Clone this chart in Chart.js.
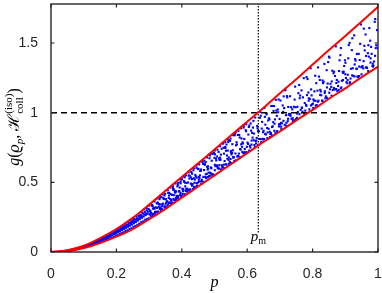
<!DOCTYPE html>
<html>
<head>
<meta charset="utf-8">
<script src="https://cdn.jsdelivr.net/npm/chart.js@4.4.1/dist/chart.umd.min.js"></script>
<style>
  html, body { margin: 0; padding: 0; background: #fff; }
  #wrap { width: 382px; height: 293px; }
</style>
</head>
<body>
<div id="wrap"><canvas id="chart" width="382" height="293"></canvas></div>
<script>
// bounding curves
const boundP = [0, 0.05, 0.1, 0.15, 0.2, 0.25, 0.3, 0.35, 0.4, 0.45, 0.5, 0.55, 0.6, 0.65, 0.7, 0.75, 0.8, 0.85, 0.9, 0.95, 1];
const upperBound = [0, 0.012, 0.045, 0.1, 0.165, 0.245, 0.34, 0.44, 0.538, 0.637, 0.736, 0.836, 0.935, 1.035, 1.14, 1.24, 1.345, 1.45, 1.55, 1.655, 1.76];
const lowerBound = [0, 0.006, 0.028, 0.065, 0.11, 0.165, 0.235, 0.31, 0.39, 0.47, 0.55, 0.63, 0.71, 0.79, 0.865, 0.945, 1.02, 1.1, 1.175, 1.255, 1.33];

const pm = 0.634;
const pmLineBottom = 0.14;
const refLevel = 1;

const xTicks = [0, 0.2, 0.4, 0.6, 0.8, 1];
const yTicks = [0, 0.5, 1, 1.5];
const yMax = 1.78;

// sampled points (p, g)
const cloudPoints = [
  [0.030,0.003],[0.039,0.005],[0.036,0.004],[0.045,0.007],[0.042,0.005],[0.051,0.009],[0.048,0.007],[0.057,0.012],
  [0.054,0.009],[0.063,0.015],[0.060,0.012],[0.069,0.018],[0.066,0.014],[0.075,0.022],[0.072,0.017],[0.081,0.026],
  [0.078,0.020],[0.087,0.030],[0.084,0.023],[0.093,0.033],[0.090,0.027],[0.099,0.038],[0.096,0.030],[0.105,0.041],
  [0.102,0.034],[0.111,0.048],[0.108,0.037],[0.117,0.052],[0.114,0.044],[0.123,0.058],[0.120,0.046],[0.129,0.066],
  [0.126,0.052],[0.135,0.070],[0.132,0.057],[0.141,0.078],[0.138,0.061],[0.147,0.085],[0.144,0.066],[0.153,0.087],
  [0.150,0.071],[0.159,0.098],[0.156,0.075],[0.165,0.101],[0.162,0.082],[0.171,0.111],[0.168,0.087],[0.177,0.115],
  [0.174,0.093],[0.183,0.124],[0.180,0.098],[0.189,0.131],[0.186,0.104],[0.195,0.137],[0.192,0.110],[0.201,0.147],
  [0.198,0.118],[0.207,0.152],[0.204,0.121],[0.213,0.161],[0.210,0.130],[0.219,0.170],[0.216,0.136],[0.225,0.175],
  [0.222,0.142],[0.231,0.188],[0.228,0.151],[0.237,0.193],[0.234,0.156],[0.243,0.204],[0.240,0.165],[0.249,0.212],
  [0.246,0.170],[0.255,0.218],[0.252,0.180],[0.261,0.231],[0.258,0.186],[0.267,0.238],[0.264,0.195],[0.273,0.250],
  [0.270,0.203],[0.279,0.256],[0.276,0.214],[0.285,0.270],[0.282,0.220],[0.291,0.276],[0.288,0.231],[0.297,0.290],
  [0.294,0.236],
  [0.0315,0.003],[0.0375,0.0045],[0.0435,0.006],[0.0495,0.0085],[0.0555,0.011],[0.0615,0.0135],[0.0675,0.0165],
  [0.0735,0.020],[0.0795,0.0235],[0.0855,0.0275],[0.0915,0.031],[0.0975,0.0345],[0.1035,0.0385],[0.1095,0.0435],
  [0.1155,0.049],[0.1215,0.0545],[0.1275,0.0605],[0.1335,0.066],[0.1395,0.0715],[0.1455,0.077],[0.1515,0.0825],
  [0.1575,0.089],[0.1635,0.095],[0.1695,0.1015],[0.1755,0.1085],[0.1815,0.115],[0.1875,0.122],[0.1935,0.129],
  [0.1995,0.136],[0.2055,0.1425],[0.2115,0.1505],[0.2175,0.1585],[0.2235,0.166],[0.2295,0.174],[0.2355,0.1815],
  [0.2415,0.1895],[0.2475,0.1975],[0.2535,0.206],[0.2595,0.2155],[0.2655,0.226],[0.2715,0.2355],[0.2775,0.2455],
  [0.2835,0.2555],[0.2895,0.265],[0.2955,0.275],
  [0.0345,0.0037],[0.0405,0.0055],[0.0465,0.0074],[0.0525,0.0103],[0.0585,0.0131],[0.0645,0.016],[0.0705,0.0197],
  [0.0765,0.0235],[0.0825,0.0274],[0.0885,0.032],[0.0945,0.036],[0.1005,0.040],[0.1065,0.044],[0.1125,0.050],
  [0.1185,0.057],[0.1245,0.063],[0.1305,0.070],[0.1365,0.076],[0.1425,0.082],[0.1485,0.088],[0.1545,0.095],
  [0.1605,0.102],[0.1665,0.109],[0.1725,0.117],[0.1785,0.124],[0.1845,0.132],[0.1905,0.140],[0.1965,0.147],
  [0.2025,0.155],[0.2085,0.162],[0.2145,0.171],[0.2205,0.180],[0.2265,0.188],[0.2325,0.197],[0.2385,0.206],
  [0.2445,0.214],[0.2505,0.223],[0.2565,0.233],[0.2625,0.243],[0.2685,0.255],[0.2745,0.265],[0.2805,0.277],
  [0.2865,0.287],[0.2925,0.298],[0.2985,0.309],
  [0.205,0.167],[0.213,0.172],[0.221,0.190],[0.229,0.191],[0.237,0.213],[0.245,0.231],[0.253,0.237],
  [0.261,0.257],[0.269,0.261],[0.277,0.285],[0.285,0.306],[0.293,0.313],[0.301,0.333],[0.309,0.338],
  [0.317,0.363],[0.325,0.384],[0.333,0.392],[0.341,0.413],[0.349,0.418],[0.357,0.443],[0.365,0.463],
  [0.373,0.471],[0.381,0.492],[0.389,0.496],[0.397,0.521],[0.405,0.542],[0.413,0.550],[0.421,0.571],
  [0.429,0.575],[0.437,0.600],[0.445,0.621],[0.453,0.629],[0.461,0.650],[0.469,0.655],[0.477,0.679],
  [0.485,0.700],[0.493,0.708],[0.501,0.729],[0.509,0.734],[0.517,0.759],[0.525,0.780],[0.533,0.788],
  [0.541,0.809],[0.549,0.814],[0.557,0.839],[0.565,0.860],[0.573,0.868],[0.581,0.888],[0.589,0.893],
  [0.597,0.918],
  [0.305,0.276],[0.312,0.311],[0.319,0.287],[0.326,0.353],[0.333,0.341],[0.340,0.307],[0.347,0.406],
  [0.354,0.364],[0.361,0.405],[0.368,0.371],[0.375,0.451],[0.382,0.433],[0.389,0.387],[0.396,0.505],
  [0.403,0.451],[0.410,0.498],[0.417,0.455],[0.424,0.547],[0.431,0.523],[0.438,0.468],[0.445,0.604],
  [0.452,0.539],[0.459,0.592],[0.466,0.539],[0.473,0.645],[0.480,0.615],[0.487,0.548],[0.494,0.704],
  [0.501,0.626],[0.508,0.685],[0.515,0.623],[0.522,0.741],[0.529,0.706],[0.536,0.629],[0.543,0.803],
  [0.550,0.713],
  [0.300,0.241],[0.304,0.293],[0.298,0.238],[0.3015,0.270],[0.3055,0.281],[0.3025,0.297],
  [0.307,0.277],[0.311,0.328],[0.305,0.260],[0.3085,0.252],[0.3125,0.269],[0.3095,0.332],
  [0.314,0.275],[0.318,0.280],[0.312,0.267],[0.3155,0.318],[0.3195,0.265],[0.3165,0.311],
  [0.321,0.320],[0.325,0.316],[0.319,0.289],[0.3225,0.288],[0.3265,0.354],[0.3235,0.348],
  [0.328,0.291],[0.332,0.379],[0.326,0.284],[0.3295,0.325],[0.3335,0.315],[0.3305,0.344],
  [0.335,0.320],[0.339,0.307],[0.333,0.309],[0.3365,0.302],[0.3405,0.344],[0.3375,0.394],
  [0.342,0.347],[0.346,0.380],[0.340,0.329],[0.3435,0.386],[0.3475,0.328],[0.3445,0.383],
  [0.349,0.320],[0.353,0.354],[0.347,0.325],[0.3505,0.346],[0.3545,0.321],[0.3515,0.379],
  [0.356,0.362],[0.360,0.388],[0.354,0.326],[0.3575,0.339],[0.3615,0.424],[0.3585,0.424],
  [0.363,0.356],[0.367,0.345],[0.361,0.352],[0.3645,0.380],[0.3685,0.375],[0.3655,0.416],
  [0.370,0.410],[0.374,0.446],[0.368,0.357],[0.3715,0.352],[0.3755,0.408],[0.3725,0.459],
  [0.377,0.371],[0.381,0.438],[0.375,0.382],[0.3785,0.435],[0.3825,0.387],[0.3795,0.426],
  [0.384,0.403],[0.388,0.482],[0.382,0.373],[0.3855,0.393],[0.3895,0.377],[0.3865,0.471],
  [0.391,0.434],[0.395,0.410],[0.389,0.402],[0.3925,0.438],[0.3965,0.493],[0.3935,0.463],
  [0.398,0.398],[0.402,0.454],[0.396,0.424],[0.3995,0.404],[0.4035,0.436],[0.4005,0.522],
  [0.405,0.447],[0.409,0.536],[0.403,0.416],[0.4065,0.508],[0.4105,0.471],[0.4075,0.504],
  [0.412,0.438],[0.416,0.433],[0.410,0.415],[0.4135,0.453],[0.4175,0.446],[0.4145,0.495],
  [0.419,0.499],[0.423,0.528],[0.417,0.443],[0.4205,0.442],[0.4245,0.433],[0.4215,0.549],
  [0.426,0.450],[0.430,0.488],[0.424,0.447],[0.4275,0.491],[0.4315,0.562],[0.4285,0.535],
  [0.433,0.486],[0.437,0.529],[0.431,0.476],[0.4345,0.453],[0.4385,0.497],[0.4355,0.586],
  [0.440,0.520],[0.444,0.468],[0.438,0.462],[0.4415,0.553],[0.4455,0.534],[0.4425,0.542],
  [0.447,0.477],[0.451,0.597],[0.445,0.494],[0.4485,0.497],[0.4525,0.505],[0.4495,0.595],
  [0.454,0.532],[0.458,0.582],[0.452,0.519],[0.4555,0.550],[0.4595,0.489],[0.4565,0.581],
  [0.461,0.519],[0.465,0.635],[0.459,0.507],[0.4625,0.506],[0.4665,0.632],[0.4635,0.650],
  [0.468,0.588],[0.472,0.539],[0.466,0.503],[0.4695,0.631],[0.4735,0.558],[0.4705,0.626],
  [0.475,0.530],[0.479,0.592],[0.473,0.535],[0.4765,0.561],[0.4805,0.598],[0.4775,0.611],
  [0.482,0.570],[0.486,0.693],[0.480,0.538],[0.4835,0.545],[0.4875,0.564],[0.4845,0.673],
  [0.489,0.607],[0.493,0.560],[0.487,0.569],[0.4905,0.601],[0.4945,0.546],[0.4915,0.655],
  [0.496,0.555],[0.500,0.676],[0.494,0.551],[0.4975,0.553],[0.5015,0.701],[0.4985,0.712],
  [0.503,0.616],[0.507,0.622],[0.501,0.587],[0.5045,0.670],[0.5085,0.618],[0.5055,0.657],
  [0.510,0.600],[0.514,0.671],[0.508,0.614],[0.5115,0.602],[0.5155,0.661],[0.5125,0.718],
  [0.517,0.677],[0.521,0.592],[0.515,0.598],[0.5185,0.662],[0.5225,0.623],[0.5195,0.699],
  [0.524,0.610],[0.528,0.748],[0.522,0.592],[0.5255,0.608],[0.5295,0.602],[0.5265,0.779],
  [0.531,0.653],[0.535,0.727],[0.529,0.627],[0.5325,0.753],[0.5365,0.771],[0.5335,0.747],
  [0.538,0.693],[0.542,0.789],[0.536,0.628],[0.5395,0.669],[0.5435,0.679],[0.5405,0.728],
  [0.545,0.632],[0.549,0.668],[0.543,0.661],[0.5465,0.647],[0.5505,0.724],[0.5475,0.798],
  [0.552,0.700],[0.556,0.730],[0.550,0.639],[0.5535,0.711],[0.5575,0.681],[0.5545,0.774],
  [0.559,0.680],[0.563,0.849],[0.557,0.678],[0.5605,0.653],[0.5645,0.657],[0.5615,0.838],
  [0.566,0.766],[0.570,0.686],[0.564,0.707],[0.5675,0.788],[0.5715,0.840],[0.5685,0.772],
  [0.573,0.688],[0.577,0.822],[0.571,0.688],[0.5745,0.706],[0.5785,0.739],[0.5755,0.840],
  [0.580,0.735],[0.584,0.755],[0.578,0.679],[0.5815,0.773],[0.5855,0.787],[0.5825,0.815],
  [0.587,0.779],[0.591,0.811],[0.585,0.718],[0.5885,0.709],[0.5925,0.740],[0.5895,0.906],
  [0.594,0.711],[0.598,0.715],[0.592,0.718],[0.5955,0.874],[0.5995,0.713],[0.5965,0.867],
  [0.601,0.785],[0.605,0.897],[0.599,0.755],[0.6025,0.776],[0.6065,0.908],[0.6035,0.843],
  [0.608,0.762],[0.612,0.871],[0.606,0.728],[0.6095,0.750],[0.6135,0.800],[0.6105,0.923],
  [0.615,0.855],[0.619,0.941],[0.613,0.771],[0.6165,0.821],[0.6205,0.850],[0.6175,0.893],
  [0.622,0.768],[0.626,0.797],[0.620,0.802],[0.6235,0.753],[0.6275,0.800],[0.6245,0.965],
  [0.629,0.819],[0.633,0.868],[0.627,0.779],[0.6305,0.905],[0.6345,0.769],[0.6315,0.888],
  [0.636,0.866],[0.640,1.006],[0.634,0.768],[0.6375,0.811],[0.6415,0.978],[0.6385,0.963],
  [0.643,0.789],[0.647,0.812],[0.641,0.810],[0.6445,0.886],[0.6485,0.860],[0.6455,0.934],
  [0.650,0.870],[0.654,0.970],[0.648,0.808],[0.6515,0.811],[0.6555,0.914],[0.6525,1.034],
  [0.657,0.843],[0.661,0.890],[0.655,0.848],[0.6585,0.996],[0.6625,0.858],[0.6595,0.988],
  [0.664,0.944],[0.668,0.952],[0.662,0.818],[0.6655,0.884],[0.6695,0.825],[0.6665,0.960],
  [0.671,0.847],[0.675,0.839],[0.669,0.863],[0.6725,0.853],[0.6765,1.048],[0.6735,1.048],
  [0.678,0.902],[0.682,1.048],[0.676,0.897],[0.6795,0.932],[0.6835,0.921],[0.6805,1.013],
  [0.685,0.952],[0.689,1.015],[0.683,0.870],[0.6865,0.854],[0.6905,0.977],[0.6875,1.092],
  [0.692,0.868],[0.696,1.095],[0.690,0.857],[0.6935,1.023],[0.6975,0.917],[0.6945,1.003],
  [0.699,0.955],[0.703,0.927],[0.697,0.901],[0.7005,0.915],[0.7045,0.882],[0.7015,1.087],
  [0.706,0.924],[0.710,1.006],[0.704,0.899],[0.7075,0.998],[0.7115,1.117],[0.7085,1.052],
  [0.713,1.033],[0.717,1.162],[0.711,0.941],[0.7145,0.913],[0.7185,0.982],[0.7155,1.162],
  [0.720,0.927],[0.724,0.939],[0.718,0.907],[0.7215,1.119],[0.7255,1.041],[0.7225,1.110],
  [0.727,0.985],[0.731,1.118],[0.725,0.956],[0.7285,0.991],[0.7325,0.977],
  [0.734,1.039],[0.738,1.024],[0.732,0.991],[0.7355,0.956],[0.7395,0.938],
  [0.741,0.946],[0.745,1.094],[0.739,0.961],[0.7425,1.042],[0.7465,1.187],
  [0.748,1.039],[0.752,0.963],[0.746,0.945],[0.7495,0.954],[0.7535,1.042],
  [0.755,1.005],[0.759,1.199],[0.753,0.993],[0.7565,1.140],[0.7605,1.104],
  [0.762,1.123],[0.766,1.160],[0.760,0.989],[0.7635,1.020],[0.7675,1.036],
  [0.769,1.007],[0.773,1.248],[0.767,1.035],[0.7705,1.110],[0.7745,0.994],
  [0.776,1.069],[0.780,1.056],[0.774,0.996],[0.7775,1.015],[0.7815,1.256],
  [0.783,1.126],[0.787,1.145],[0.781,1.049],[0.7845,1.241],[0.7885,1.103],
  [0.790,1.024],[0.794,1.319],[0.788,1.086],[0.7915,1.099],[0.7955,1.167],
  [0.797,1.124],[0.801,1.065],[0.795,1.052],[0.7985,1.059],[0.8025,1.095],
  [0.804,1.087],[0.808,1.265],[0.802,1.034],[0.8055,1.153],[0.8095,1.050],
  [0.811,1.212],[0.815,1.158],[0.809,1.085],[0.8125,1.055],[0.8165,1.325],
  [0.818,1.086],[0.822,1.235],[0.816,1.079],[0.8195,1.259],[0.8235,1.164],
  [0.825,1.152],[0.829,1.087],[0.823,1.128],[0.8265,1.125],[0.8305,1.231],
  [0.832,1.212],[0.836,1.350],[0.830,1.085],[0.8335,1.222],[0.8375,1.154],
  [0.839,1.103],[0.843,1.305],[0.837,1.141],[0.8405,1.117],[0.8445,1.106],
  [0.846,1.209],[0.850,1.402],[0.844,1.181],[0.8475,1.363],[0.8515,1.395],
  [0.853,1.168],[0.857,1.185],[0.851,1.143],[0.8545,1.207],[0.8585,1.224],
  [0.860,1.301],[0.864,1.283],[0.858,1.122],[0.8615,1.162],[0.8655,1.294],
  [0.867,1.166],[0.871,1.476],[0.865,1.177],[0.8685,1.263],[0.8725,1.213],
  [0.874,1.235],[0.878,1.192],[0.872,1.170],[0.8755,1.155],[0.8795,1.162],
  [0.881,1.299],[0.885,1.413],[0.879,1.222],[0.8825,1.376],[0.8865,1.464],
  [0.888,1.181],[0.892,1.293],[0.886,1.174],[0.8895,1.229],[0.8935,1.285],
  [0.895,1.294],[0.899,1.376],[0.893,1.234],[0.8965,1.335],[0.9005,1.358],
  [0.902,1.249],[0.906,1.211],[0.900,1.276],[0.9035,1.219],[0.9075,1.272],
  [0.909,1.390],[0.913,1.501],[0.907,1.234],[0.9105,1.485],[0.9145,1.219],
  [0.916,1.245],[0.920,1.449],[0.914,1.211],[0.9175,1.315],[0.9215,1.534],
  [0.923,1.319],[0.927,1.555],[0.921,1.268],[0.9245,1.264],[0.9285,1.346],
  [0.930,1.385],[0.934,1.315],[0.928,1.260],[0.9315,1.374],[0.9355,1.421],
  [0.937,1.260],[0.941,1.422],[0.935,1.315],[0.9385,1.256],[0.9425,1.331],
  [0.944,1.378],[0.948,1.633],[0.942,1.263],[0.9455,1.494],[0.9495,1.275],
  [0.951,1.330],[0.955,1.318],[0.949,1.326],[0.9525,1.334],[0.9565,1.603],
  [0.958,1.480],[0.962,1.561],[0.956,1.370],[0.9595,1.447],[0.9635,1.407],
  [0.965,1.325],[0.969,1.427],[0.963,1.325],[0.9665,1.321],[0.9705,1.484],
  [0.972,1.402],[0.976,1.517],[0.970,1.299],[0.9735,1.607],[0.9775,1.390],
  [0.979,1.472],[0.983,1.335],[0.977,1.360],[0.9805,1.422],[0.9845,1.331],
  [0.986,1.338],[0.990,1.652],[0.984,1.351],[0.9875,1.367],[0.9915,1.672],
  [0.993,1.463],[0.997,1.593],[0.991,1.408],[0.9945,1.484],[0.9985,1.467]
];

const INK = '#262626';
const SERIF = '"Liberation Serif", "DejaVu Serif", serif';

function drawMath(ctx, parts, cx, cy, angle) {
  ctx.save();
  ctx.translate(cx, cy);
  ctx.rotate(angle);
  ctx.fillStyle = '#000';
  ctx.textBaseline = 'alphabetic';
  ctx.textAlign = 'left';
  const widthOf = part => {
    ctx.font = part.font;
    if (part.sup !== undefined) {
      return Math.max(ctx.measureText(part.sup).width, ctx.measureText(part.sub).width);
    }
    return ctx.measureText(part.t).width;
  };
  const total = parts.reduce((s, p) => s + widthOf(p), 0);
  let x = -total / 2;
  parts.forEach(part => {
    const w = widthOf(part);
    ctx.font = part.font;
    if (part.sup !== undefined) {
      ctx.fillText(part.sup, x, -7);
      ctx.fillText(part.sub, x, 4);
    } else {
      ctx.fillText(part.t, x, part.dy || 0);
    }
    x += w;
  });
  ctx.restore();
}

const axesPlugin = {
  id: 'axesBox',
  afterDraw(chart) {
    const { ctx, chartArea: a, scales } = chart;
    const xs = scales.x, ys = scales.y;
    const tl = 3.5;
    ctx.save();
    ctx.strokeStyle = INK;
    ctx.lineWidth = 1.2;
    ctx.beginPath();
    xs.ticks.forEach(t => {
      const x = xs.getPixelForValue(t.value);
      ctx.moveTo(x, a.bottom); ctx.lineTo(x, a.bottom - tl);
      ctx.moveTo(x, a.top); ctx.lineTo(x, a.top + tl);
    });
    ys.ticks.forEach(t => {
      const y = ys.getPixelForValue(t.value);
      ctx.moveTo(a.left, y); ctx.lineTo(a.left + tl, y);
      ctx.moveTo(a.right, y); ctx.lineTo(a.right - tl, y);
    });
    ctx.stroke();
    ctx.lineWidth = 1.4;
    ctx.strokeRect(a.left, a.top, a.right - a.left, a.bottom - a.top);

    // p_m label under the dotted line
    const px = xs.getPixelForValue(pm);
    ctx.fillStyle = '#000';
    ctx.textBaseline = 'alphabetic';
    ctx.textAlign = 'left';
    ctx.font = 'italic 15px ' + SERIF;
    const wp = ctx.measureText('p').width;
    ctx.font = '10px ' + SERIF;
    const wm = ctx.measureText('m').width;
    const x0 = px - (wp + wm) / 2;
    ctx.font = 'italic 15px ' + SERIF;
    ctx.fillText('p', x0, 241);
    ctx.font = '10px ' + SERIF;
    ctx.fillText('m', x0 + wp, 244);

    // axis titles
    ctx.font = 'italic 16px ' + SERIF;
    ctx.textAlign = 'center';
    ctx.fillText('p', (a.left + a.right) / 2, 287);
    ctx.restore();

    drawMath(ctx, [
      { t: 'g', font: 'italic 16px ' + SERIF },
      { t: '(', font: '16px ' + SERIF },
      { t: '\u03F1', font: 'italic 16px ' + SERIF },
      { t: 'p', font: 'italic 11px ' + SERIF, dy: 4 },
      { t: ', ', font: '16px ' + SERIF },
      { t: '\u210B', font: '16px ' + SERIF },
      { sup: '(iso)', sub: 'coll', font: '11px ' + SERIF },
      { t: ')', font: '16px ' + SERIF }
    ], 19, 127, -Math.PI / 2);
  }
};

const ctx = document.getElementById('chart').getContext('2d');
const chart = new Chart(ctx, {
  type: 'scatter',
  data: {
    datasets: [
      {
        label: 'upper',
        type: 'line',
        data: boundP.map((p, i) => ({ x: p, y: upperBound[i] })),
        borderColor: '#ff0000',
        borderWidth: 2,
        pointRadius: 0,
        fill: false,
        cubicInterpolationMode: 'monotone'
      },
      {
        label: 'lower',
        type: 'line',
        data: boundP.map((p, i) => ({ x: p, y: lowerBound[i] })),
        borderColor: '#ff0000',
        borderWidth: 2,
        pointRadius: 0,
        fill: false,
        cubicInterpolationMode: 'monotone'
      },
      {
        label: 'level',
        type: 'line',
        data: [{ x: 0, y: refLevel }, { x: 1, y: refLevel }],
        borderColor: '#000',
        borderWidth: 1.5,
        borderDash: [6, 4],
        pointRadius: 0
      },
      {
        label: 'pm',
        type: 'line',
        data: [{ x: pm, y: pmLineBottom }, { x: pm, y: yMax }],
        borderColor: '#000',
        borderWidth: 1.2,
        borderDash: [1.5, 1.5],
        pointRadius: 0
      },
      {
        label: 'samples',
        data: cloudPoints.map(([p, g]) => ({ x: p, y: g })),
        backgroundColor: '#0000ff',
        borderWidth: 0,
        pointStyle: 'rect',
        pointRadius: 1.5
      }
    ]
  },
  options: {
    responsive: false,
    animation: false,
    events: [],
    layout: { padding: { top: 1, right: 1, left: 0, bottom: 0 } },
    plugins: { legend: { display: false }, tooltip: { enabled: false } },
    scales: {
      x: {
        type: 'linear',
        min: 0,
        max: 1,
        afterBuildTicks: s => { s.ticks = xTicks.map(v => ({ value: v })); },
        afterFit: s => { s.height = 41; s.paddingLeft = 0; s.paddingRight = 0; },
        grid: { display: false },
        border: { display: false },
        ticks: {
          color: INK,
          padding: 6,
          maxRotation: 0,
          font: { family: '"Liberation Sans", Arial, sans-serif', size: 14 },
          callback: v => String(Number(v.toFixed(2)))
        }
      },
      y: {
        type: 'linear',
        min: 0,
        max: yMax,
        afterBuildTicks: s => { s.ticks = yTicks.map(v => ({ value: v })); },
        afterFit: s => { s.width = 51; s.paddingTop = 0; s.paddingBottom = 0; },
        grid: { display: false },
        border: { display: false },
        ticks: {
          color: INK,
          padding: 5,
          font: { family: '"Liberation Sans", Arial, sans-serif', size: 14 },
          callback: v => String(Number(v.toFixed(2)))
        }
      }
    }
  },
  plugins: [axesPlugin]
});
</script>
</body>
</html>
